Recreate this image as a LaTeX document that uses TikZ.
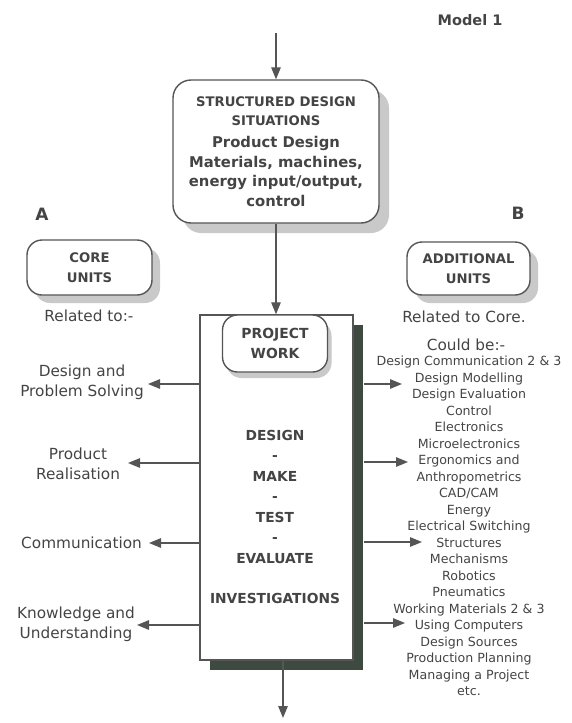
\documentclass[tikz,border=0pt]{standalone}
\usepackage{fontspec}
\setmainfont{DejaVu Sans}
\usetikzlibrary{arrows.meta,shadows}
\definecolor{ink}{HTML}{444444}
\definecolor{linec}{HTML}{555555}
\definecolor{lshadow}{HTML}{C9C9C9}
\definecolor{dshadow}{HTML}{3E4940}
\newcommand{\mixfont}{\fontsize{14.8}{19.5}\selectfont}
\begin{document}
\begin{tikzpicture}[x=1pt,y=-1pt,
  every node/.style={text=ink, inner sep=0pt},
  conn/.style={draw=linec, line width=1.3pt, -{Triangle[length=12pt,width=9.5pt]}},
  rbox/.style={draw=linec, line width=1.4pt, fill=white, align=center},
  lshad/.style={drop shadow={shadow xshift=#1pt, shadow yshift=-#1pt, fill=lshadow, opacity=1}},
  head/.style={font=\fontsize{13.2}{20}\selectfont\bfseries, align=center},
  lab/.style={font=\fontsize{15.3}{20}\selectfont, align=center},
  listtext/.style={font=\fontsize{12.6}{16.5}\selectfont, align=center},
  marker/.style={font=\fontsize{17}{17}\selectfont\bfseries},
]
\useasboundingbox (0,0) rectangle (571,723);

% title
\node[font=\fontsize{14.5}{14.5}\selectfont\bfseries] (title) at (470,20) {Model 1};

% structured design situations
\node[rbox, rounded corners=18pt, lshad=10, minimum width=206pt, minimum height=143pt,
      font=\fontsize{13.2}{19.5}\selectfont\bfseries] (sds) at (276,151.5)
  {STRUCTURED DESIGN\\SITUATIONS\\[2.5pt]{\mixfont Product Design}\\{\mixfont Materials, machines,}\\{\mixfont energy input/output,}\\{\mixfont control}};

% core units
\node[marker] (ma) at (42,214) {A};
\node[rbox, rounded corners=15pt, lshad=8, minimum width=125pt, minimum height=55pt,
      head] (core) at (89.5,267.5) {CORE\\UNITS};
\node[lab] (rel) at (89,316) {Related to:-};

% additional units
\node[marker] (mb) at (518,213) {B};
\node[rbox, rounded corners=15pt, lshad=8, minimum width=123pt, minimum height=53pt,
      head] (add) at (468.5,268.5) {ADDITIONAL\\UNITS};
\node[lab] (relc) at (464,317) {Related to Core.};
\node[lab] (could) at (466,345) {Could be:-};

% project box
\node[draw=linec, line width=1.4pt, fill=white, minimum width=153pt, minimum height=345pt,
      drop shadow={shadow xshift=10pt, shadow yshift=-10pt, fill=dshadow, opacity=1}]
  (pb) at (276.5,487.5) {};
\node[rbox, rounded corners=15pt, drop shadow={shadow xshift=4pt, shadow yshift=-6pt, fill=lshadow, opacity=1},
      minimum width=105pt, minimum height=57pt, font=\fontsize{13.9}{20}\selectfont\bfseries] (pwk) at (275,343.5) {PROJECT\\WORK};
\node[font=\fontsize{13.8}{20.5}\selectfont\bfseries, align=center] (dmte) at (275,516.5)
  {DESIGN\\-\\MAKE\\-\\TEST\\-\\EVALUATE\\[19.5pt]INVESTIGATIONS};

% right list
\node[listtext] (list) at (469,526)
  {Design Communication 2 \& 3\\Design Modelling\\Design Evaluation\\Control\\Electronics\\Microelectronics\\Ergonomics and\\Anthropometrics\\CAD/CAM\\Energy\\Electrical Switching\\Structures\\Mechanisms\\Robotics\\Pneumatics\\Working Materials 2 \& 3\\Using Computers\\Design Sources\\Production Planning\\Managing a Project\\etc.};

% left labels
\node[lab] (dps) at (82,382) {Design and\\Problem Solving};
\node[lab] (prr) at (78,464) {Product\\Realisation};
\node[lab, anchor=east] (com) at (142,543) {Communication};
\node[lab] (kau) at (76,624) {Knowledge and\\Understanding};

% connectors
\coordinate (topin) at (276,33);
\draw[conn] (topin) -- (sds.north);
\draw[conn] (sds.south) -- (sds.south |- pb.north);
\coordinate (out) at (283,718);
\draw[conn] (pb.south -| out) -- (out);

\coordinate (l1) at (148,384);
\coordinate (l2) at (128,463);
\coordinate (l3) at (149,543);
\coordinate (l4) at (137,625);
\foreach \c in {l1,l2,l3,l4} \draw[conn] (pb.west |- \c) -- (\c);

\coordinate (r1) at (402,384);
\coordinate (r2) at (408,462);
\coordinate (r3) at (422,542);
\coordinate (r4) at (405,623);
\foreach \c in {r1,r2,r3,r4} \draw[conn] ([xshift=10pt]pb.east |- \c) -- (\c);
\end{tikzpicture}
\end{document}
